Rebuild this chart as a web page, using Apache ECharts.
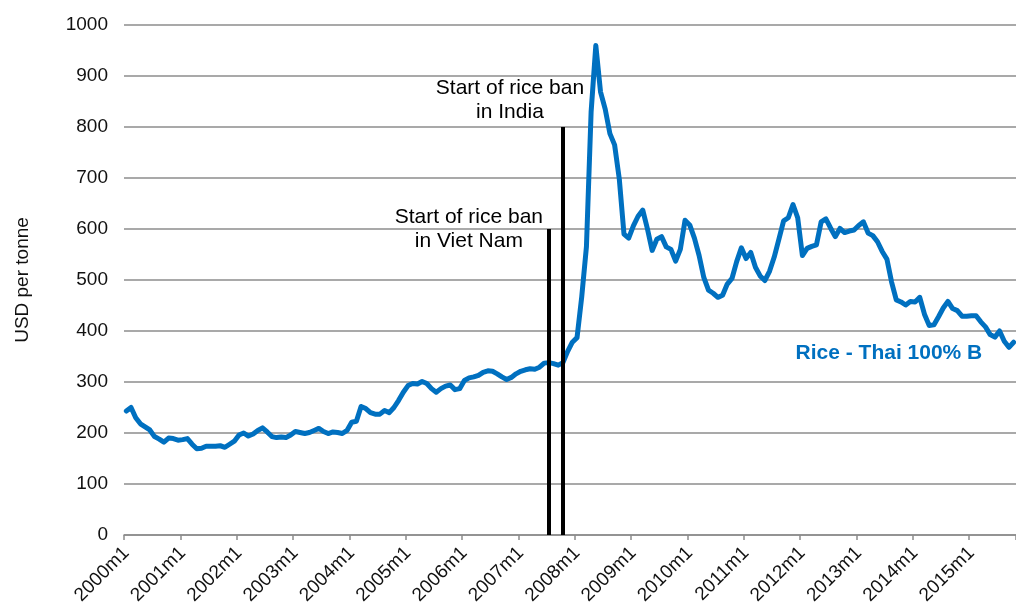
<!DOCTYPE html>
<html>
<head>
<meta charset="utf-8">
<script src="https://cdn.jsdelivr.net/npm/echarts@6/dist/echarts.min.js"></script>
<style>
html,body{margin:0;padding:0;background:#fff;}
#chart{width:1016px;height:614px;}
</style>
</head>
<body>
<div id="chart"></div>
<script>
// Categories: monthly, 2000m1 .. 2015m10
const startYear = 2000;
const monthCount = 190;
const categories = [];
for (let k = 0; k < monthCount; k++) {
  categories.push((startYear + Math.floor(k / 12)) + 'm' + (k % 12 + 1));
}

// Rice - Thai 100% B, USD per tonne
const rice2000_2003 = [
  243, 250, 230, 218, 212, 206, 193, 188, 182, 190, 189, 186,
  187, 189, 178, 169, 170, 174, 174, 174, 175, 172, 178, 184,
  196, 200, 194, 198, 205, 210, 202, 193, 191, 192, 191, 196,
  203, 201, 199, 201, 205, 209, 203, 199, 202, 201, 199, 205
];
const rice2004_2007 = [
  221, 223, 252, 248, 240, 237, 237, 244, 240, 250, 264, 280,
  293, 297, 296, 301, 297, 287, 280, 287, 292, 294, 285, 287,
  303, 308, 310, 313, 319, 322, 321, 316, 310, 305, 309, 316,
  321, 324, 326, 325, 329, 337, 338, 336, 333, 338, 360, 378
];
const rice2008_2011 = [
  387, 467, 565, 830, 960, 869, 835, 787, 765, 698, 590, 582,
  606, 625, 637, 600, 558, 580, 585, 565, 560, 537, 560, 617,
  608, 582, 548, 505, 480, 474, 466, 470, 492, 503, 536, 563,
  542, 554, 525, 508, 499, 517, 545, 580, 616, 622, 648, 622
];
const rice2012_2015 = [
  548, 562, 566, 569, 614, 620, 602, 585, 601, 593, 596, 598,
  607, 614, 592, 587, 575, 556, 541, 496, 461, 457, 451, 458,
  457, 466, 433, 411, 412, 428, 445, 458, 444, 440, 429, 429,
  430, 430, 418, 408, 393, 388, 400, 380, 368, 378
];
const riceValues = rice2000_2003.concat(rice2004_2007, rice2008_2011, rice2012_2015);

// Annotations
const banVietNam = { month: '2007m7', top: 600, text: 'Start of rice ban\nin Viet Nam' };
const banIndia = { month: '2007m10', top: 800, text: 'Start of rice ban\nin India' };
const seriesLabel = { month: '2013m7', value: 357, text: 'Rice - Thai 100% B' };

// Y axis ticks
const yMin = 0, yMax = 1000, yStep = 100;

const FONT = '"Liberation Sans", Arial, sans-serif';
const chart = echarts.init(document.getElementById('chart'), null, { renderer: 'canvas' });

chart.setOption({
  animation: false,
  backgroundColor: '#ffffff',
  grid: { left: 124, right: 0, top: 25, bottom: 79, containLabel: false },
  xAxis: {
    type: 'category',
    data: categories,
    boundaryGap: true,
    axisLine: { show: true, lineStyle: { color: '#8c8c8c', width: 1.5 } },
    axisTick: { show: true, interval: 11, length: 5, inside: false, lineStyle: { color: '#8c8c8c', width: 1.5 } },
    axisLabel: {
      interval: 11, rotate: 45, margin: 15,
      color: '#111', fontSize: 19, fontFamily: FONT
    },
    splitLine: { show: false }
  },
  yAxis: {
    type: 'value',
    min: yMin, max: yMax, interval: yStep,
    name: 'USD per tonne',
    nameLocation: 'middle',
    nameGap: 92,
    nameRotate: 90,
    nameTextStyle: { color: '#111', fontSize: 19, fontFamily: FONT },
    axisLine: { show: false },
    axisTick: { show: false },
    axisLabel: { color: '#111', fontSize: 19, fontFamily: FONT, margin: 16, formatter: function (v) { return String(v); } },
    splitLine: { show: true, lineStyle: { color: '#8c8c8c', width: 1.5 } }
  },
  series: [
    {
      name: 'Rice - Thai 100% B',
      type: 'line',
      data: riceValues,
      showSymbol: false,
      symbol: 'none',
      smooth: false,
      lineStyle: { color: '#0070C0', width: 5, join: 'round', cap: 'round' },
      itemStyle: { color: '#0070C0' },
      z: 3,
      markLine: {
        silent: true,
        symbol: ['none', 'none'],
        label: { show: false },
        lineStyle: { color: '#000', width: 4, type: 'solid' },
        data: [
          [{ coord: [banVietNam.month, 0] }, { coord: [banVietNam.month, banVietNam.top] }],
          [{ coord: [banIndia.month, 0] }, { coord: [banIndia.month, banIndia.top] }]
        ]
      },
      markPoint: {
        silent: true,
        symbol: 'circle',
        symbolSize: 0,
        data: [
          {
            coord: [banVietNam.month, banVietNam.top],
            label: {
              show: true, formatter: banVietNam.text, position: 'inside',
              offset: [-80, 0], align: 'center', verticalAlign: 'middle',
              color: '#000', fontSize: 21, lineHeight: 24, fontFamily: FONT
            }
          },
          {
            coord: [banIndia.month, banIndia.top],
            label: {
              show: true, formatter: banIndia.text, position: 'inside',
              offset: [-53, -27], align: 'center', verticalAlign: 'middle',
              color: '#000', fontSize: 21, lineHeight: 24, fontFamily: FONT
            }
          },
          {
            coord: [seriesLabel.month, seriesLabel.value],
            label: {
              show: true, formatter: seriesLabel.text, position: 'inside',
              offset: [2, 0], align: 'center', verticalAlign: 'middle',
              color: '#0070C0', fontSize: 21, fontWeight: 'bold', fontFamily: FONT
            }
          }
        ]
      }
    }
  ]
});
</script>
</body>
</html>
